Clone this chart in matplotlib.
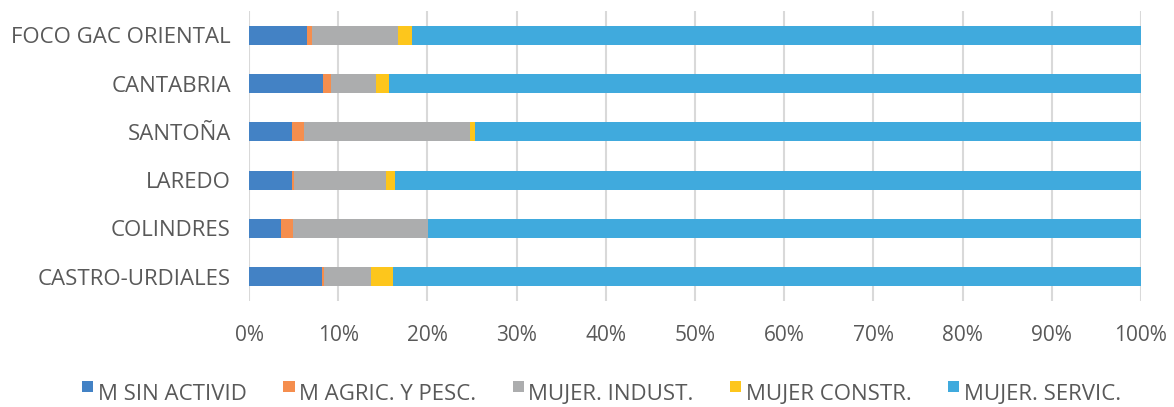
import matplotlib
matplotlib.use("Agg")
import matplotlib.pyplot as plt
from matplotlib.ticker import PercentFormatter
from matplotlib.patches import Patch, Rectangle
from matplotlib.legend_handler import HandlerPatch

categories = ["CASTRO-URDIALES", "COLINDRES", "LAREDO", "SANTOÑA", "CANTABRIA", "FOCO GAC ORIENTAL"]
series_names = ["M SIN ACTIVID", "M AGRIC. Y PESC.", "MUJER. INDUST.", "MUJER CONSTR.", "MUJER. SERVIC."]
sin_activid = [8.18, 3.55, 4.82, 4.82, 8.29, 6.46]
agric_pesc = [0.22, 1.42, 0.18, 1.30, 0.93, 0.56]
indust = [5.23, 15.15, 10.35, 18.63, 5.00, 9.63]
constr = [2.54, 0.00, 0.97, 0.60, 1.49, 1.60]
servic = [83.83, 79.88, 83.68, 74.65, 84.29, 81.75]
colors = ["#4382C5", "#F58E4E", "#ACADAE", "#FDC61C", "#40AADD"]

plt.rcParams['font.family'] = ['Open Sans', 'DejaVu Sans']
fig = plt.figure(figsize=(11.74, 4.07), dpi=100)
ax = fig.add_axes([249/1174, 1-301/407, (1141-249)/1174, 290/407])

series = [sin_activid, agric_pesc, indust, constr, servic]
left = [0.0]*len(categories)
y = list(range(len(categories)))
for vals, c in zip(series, colors):
    ax.barh(y, vals, left=left, height=0.39, color=c, zorder=3)
    left = [l + v for l, v in zip(left, vals)]

ax.set_xlim(0, 100)
ax.set_ylim(-0.5, len(categories)-0.5)
ax.set_xticks(range(0, 101, 10))
ax.xaxis.set_major_formatter(PercentFormatter(decimals=0))
ax.set_yticks(y)
ax.set_yticklabels(categories)
ax.grid(axis='x', color='#D9D9D9', linewidth=1.5, zorder=0)
for s in ax.spines.values():
    s.set_visible(False)
ax.tick_params(axis='both', length=0, colors='#595959')
ax.tick_params(axis='x', pad=17, labelsize=15)
ax.tick_params(axis='y', pad=13, labelsize=16)


class TopSquare(HandlerPatch):
    def create_artists(self, legend, orig_handle, xdescent, ydescent, width, height, fontsize, trans):
        s = 8.0
        r = Rectangle((-xdescent + width - s, -ydescent + height - s + 2.5), s, s,
                      facecolor=orig_handle.get_facecolor(), edgecolor='none', transform=trans)
        return [r]


handles = [Patch(facecolor=c, label=n) for c, n in zip(colors, series_names)]
fig.legend(handles=handles, loc='center', bbox_to_anchor=(0.512, 1-394/407), ncol=5,
           frameon=False, fontsize=16, handlelength=0.55, handleheight=0.65,
           handletextpad=0.2, columnspacing=1.6, labelcolor='#595959',
           handler_map={Patch: TopSquare()})

fig.savefig("out.png", dpi=100)
